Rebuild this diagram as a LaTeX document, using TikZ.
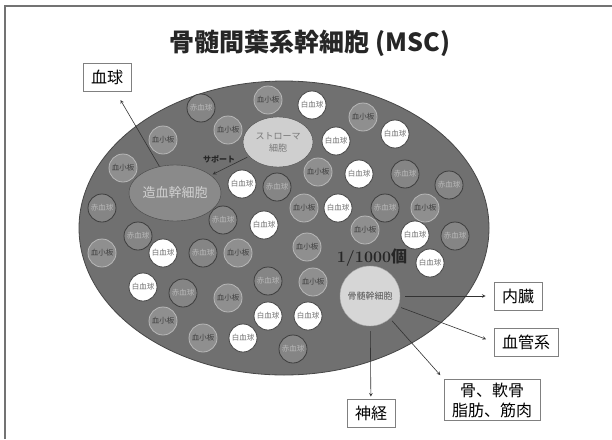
\documentclass[tikz,border=0pt]{standalone}
\usepackage{fontspec}
\newfontfamily\cjk{Noto Sans CJK JP}
\usepackage{tikz}
\usetikzlibrary{shapes.geometric}

\begin{document}
\begin{tikzpicture}[x=1pt, y=-1pt, >=stealth,
    cell/.style={circle, minimum size=28pt, inner sep=0pt, line width=0.8pt,
        font=\cjk\fontsize{7.5}{7.5}\selectfont},
    rbc/.style={cell, draw=black!76, fill=black!48, text=black!28},
    plt/.style={cell, draw=black!28, fill=black!44, text=black!75},
    wbc/.style={cell, draw=black!72, fill=white, text=black!55},
    tag/.style={draw=black!50, fill=white, line width=0.8pt, align=center,
        font=\cjk\fontsize{16}{20}\selectfont, inner xsep=8pt, minimum height=28pt},
    link/.style={->, draw=black!80, line width=0.6pt}]
    \useasboundingbox (0,0) rectangle (612,439);

    % Frame and title
    \draw[black!55, line width=1.2pt] (5,439) -- (5,6) -- (612,6);
    \node[font=\cjk\bfseries\fontsize{25}{25}\selectfont, text=black!85] (title) at (310,43) {骨髄間葉系幹細胞 (MSC)};

    % Bone marrow
    \draw[draw=black!72, fill=black!56, line width=0.8pt] (284,228) ellipse [x radius=205, y radius=147];

    % Red blood cells
    \foreach \x/\y [count=\i] in {201/108, 277/187, 102/208, 223/220, 138/236, 405/174, 449/185,
        385/208, 455/236, 203/253, 183/293, 268/281, 293/349}
        \node[rbc] (rbc\i) at (\x,\y) {赤血球};

    % Platelets
    \foreach \x/\y [count=\i] in {268/100, 228/130, 163/140, 123/168, 318/172, 304/208, 307/247,
        363/117, 425/208, 365/230, 102/253, 238/253, 228/298, 313/282, 163/321, 203/338}
        \node[plt] (plt\i) at (\x,\y) {血小板};

    % White blood cells
    \foreach \x/\y [count=\i] in {312/105, 336/141, 395/134, 242/184, 264/225, 338/208, 359/174,
        415/235, 430/263, 163/253, 143/287, 268/316, 308/316, 243/338}
        \node[wbc] (wbc\i) at (\x,\y) {白血球};

    % Stem cells
    \node[ellipse, minimum width=70pt, minimum height=50pt, inner sep=0pt, draw=black!70, fill=black!19,
        text=black!53, align=center, font=\cjk\fontsize{9}{12}\selectfont] (stroma) at (278,142) {ストローマ\\細胞};
    \node[ellipse, minimum width=74pt, minimum height=56pt, inner sep=0pt, draw=black!72, fill=black!46,
        text=black!18, font=\cjk\fontsize{13}{13}\selectfont] (hsc) at (175,193) {造血幹細胞};
    \node[circle, minimum size=60pt, inner sep=0pt, draw=black!35, fill=black!16,
        text=black!68, font=\cjk\fontsize{9}{9}\selectfont] (msc) at (370,296) {骨髄幹細胞};
    \node[text=black!85] (ratio) at (372,258) {\fontsize{16}{16}\selectfont\bfseries 1/1000{\cjk 個}};
    \node[text=black!85, font=\cjk\bfseries\fontsize{8}{8}\selectfont] (support) at (219,159) {サポート};
    \draw[link, shorten <=2pt, shorten >=2pt] (stroma) -- (hsc);

    % Where the cells go
    \node[tag] (blood) at (107,77) {血球};
    \node[tag] (organ) at (518,296) {内臓};
    \node[tag] (vessel) at (526,342) {血管系};
    \node[tag] (bone) at (492,400) {骨、軟骨\\脂肪、筋肉};
    \node[tag] (nerve) at (371,413) {神経};

    \draw[link, shorten >=10pt] (hsc) -- (blood);
    \draw[link, shorten <=5pt, shorten >=8pt] (msc) -- (organ);
    \draw[link, shorten <=3pt, shorten >=8pt] (msc) -- (vessel.west);
    \draw[link, shorten <=3pt, shorten >=5pt] (msc) -- (bone.north west);
    \draw[link, shorten <=5pt, shorten >=2pt] (msc) -- (nerve);
\end{tikzpicture}
\end{document}
